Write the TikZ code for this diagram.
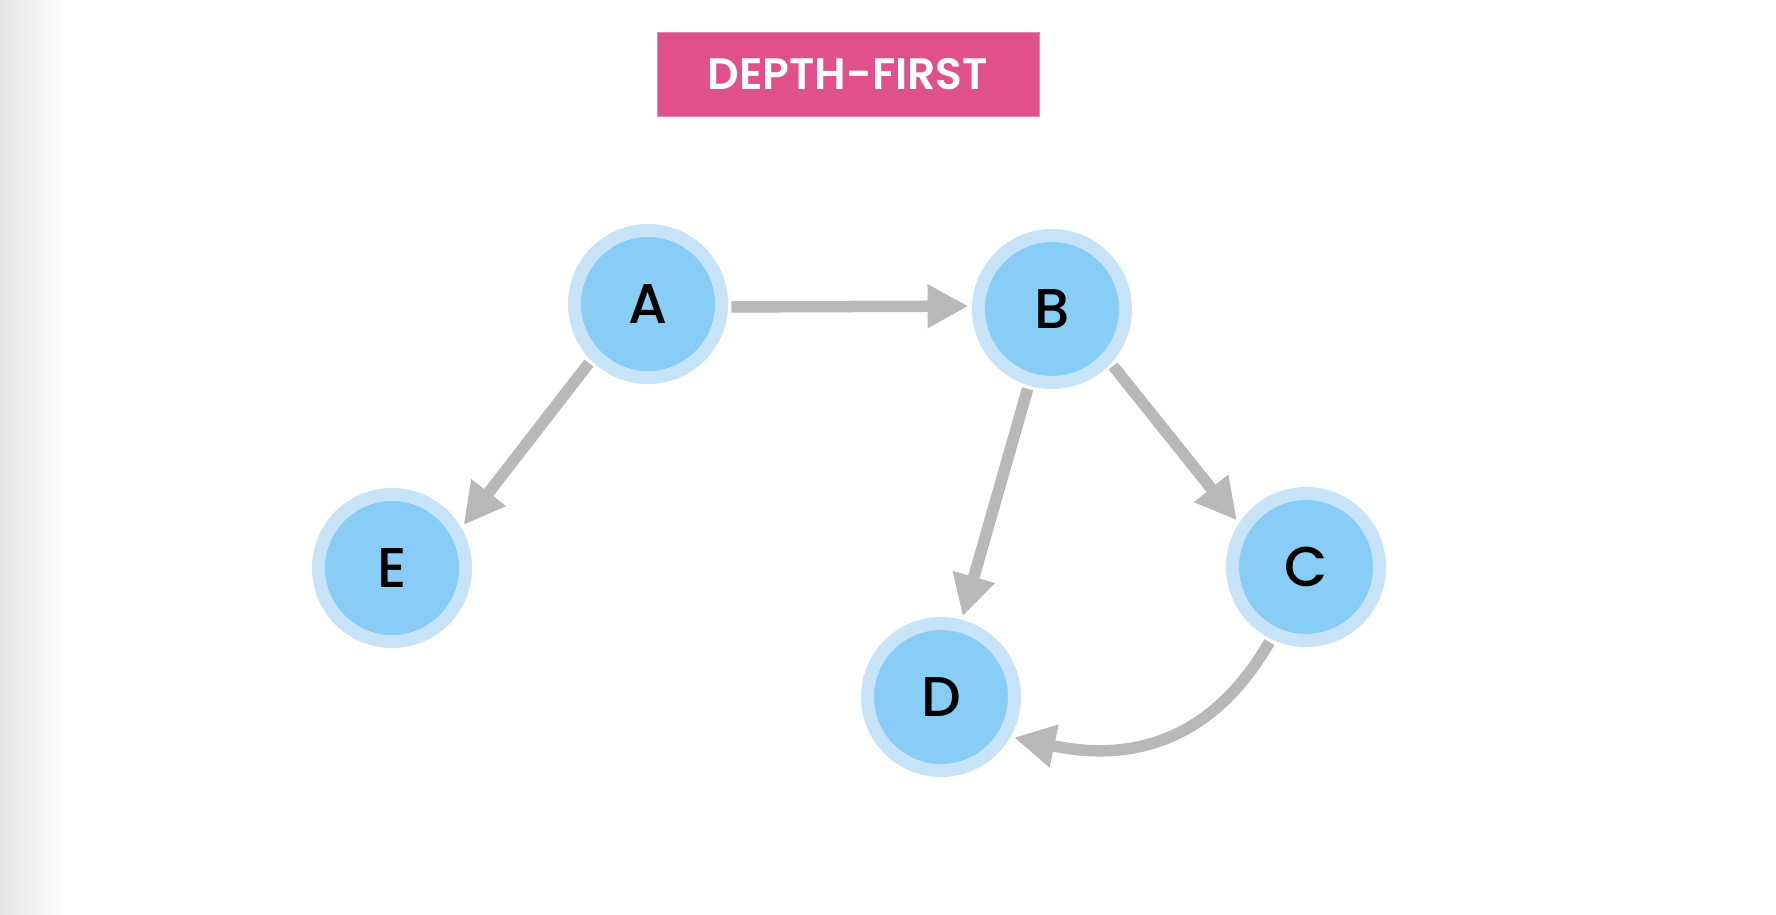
\documentclass[tikz,border=0pt]{standalone}
\usepackage{fontspec}
\setmainfont{Poppins}
\newfontfamily\nodefont{Poppins Medium}
\newfontfamily\titlefont{Poppins SemiBold}
\usetikzlibrary{arrows.meta}
\definecolor{nodein}{HTML}{87CDF6}
\definecolor{nodering}{HTML}{C7E3F8}
\definecolor{titlepink}{HTML}{E0508A}
\definecolor{edgegray}{HTML}{B8B8B8}
\definecolor{shadegray}{HTML}{E4E4E4}
\begin{document}
\begin{tikzpicture}[x=1pt,y=-1pt,
  vertex/.style={circle, fill=nodein, draw=nodering, line width=13pt,
    minimum size=147pt, inner sep=0pt, outer sep=10pt,
    font=\nodefont\fontsize{56}{60}\selectfont, text=black},
  edge/.style={draw=edgegray, line width=11.5pt,
    -{Triangle[length=41pt,width=41pt]}},
  titlebox/.style={fill=titlepink, draw=titlepink!70, line width=0.6pt,
    minimum width=382pt, minimum height=84pt, inner sep=0pt,
    text=white, font=\titlefont\fontsize{44}{48}\selectfont}]
\useasboundingbox (0,0) rectangle (1776,914);
\fill[white] (0,0) rectangle (1776,914);
\shade[left color=shadegray, right color=white] (0,0) rectangle (66,914);
\node[titlebox] (title) at (848,74) {DEPTH-FIRST};
\node[vertex] (A) at (648,304) {A};
\node[vertex] (B) at (1052,309) {B};
\node[vertex] (C) at (1306,567) {C};
\node[vertex] (D) at (941,697) {D};
\node[vertex] (E) at (392,568) {E};
\draw[edge] (A.-2) -- (B.178.6);
\draw[edge] (A.225.5) -- (E.31.3);
\draw[edge] (B.253.5) -- (D.75.3);
\draw[edge] (B.-43.1) -- (C.146.9);
\draw[edge] (C.244.6) to[out=240, in=-12, looseness=1.1] (D.-29);
\end{tikzpicture}
\end{document}
